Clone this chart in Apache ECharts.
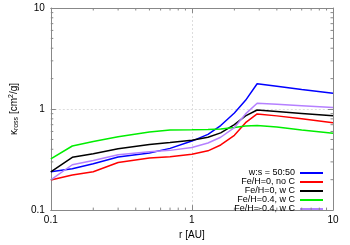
<!DOCTYPE html>
<html><head><meta charset="utf-8">
<script src="https://cdn.jsdelivr.net/npm/echarts@6/dist/echarts.min.js"></script>
<style>html,body{margin:0;padding:0;background:#fff}#c{width:350px;height:245px}</style>
</head><body><div id="c"></div>
<script>
const r = [0.1, 0.142, 0.2, 0.3, 0.5, 0.7, 1.0, 1.3, 1.6, 2.0, 2.4, 2.9, 4, 6, 10];
const wsRatio = [0.239,0.257,0.287,0.336,0.367,0.408,0.482,0.562,0.687,0.915,1.22,1.78,1.68,1.56,1.43];
const feH0noC = [0.199,0.222,0.240,0.296,0.327,0.338,0.357,0.386,0.441,0.55,0.733,0.895,0.856,0.801,0.733];
const feH0wC = [0.239,0.333,0.361,0.404,0.446,0.466,0.492,0.526,0.581,0.702,0.857,0.978,0.946,0.905,0.857];
const feH04wC = [0.321,0.431,0.478,0.532,0.594,0.621,0.624,0.628,0.635,0.656,0.679,0.687,0.664,0.621,0.575];
const feHm04wC = [0.199,0.281,0.309,0.353,0.377,0.390,0.417,0.461,0.526,0.656,0.895,1.14,1.117,1.08,1.034];
const seriesNames = ['w:s = 50:50','Fe/H=0, no C','Fe/H=0, w C','Fe/H=0.4, w C','Fe/H=-0.4, w C'];
const seriesData = [wsRatio, feH0noC, feH0wC, feH04wC, feHm04wC];
const colors = ['#0000ff','#ff0000','#000000','#00ee00','#b580ff'];
const minorX = [0.2,0.3,0.4,0.5,0.6,0.7,0.8,0.9,2,3,4,5,6,7,8,9];
const minorY = minorX;

const font = 'Liberation Sans, Arial, sans-serif';
const chart = echarts.init(document.getElementById('c'));
const frame = '#888';
const axisCommon = {
  type: 'log', logBase: 10, min: 0.1, max: 10,
  axisLine: {show: true, lineStyle: {color: frame, width: 1}},
  axisTick: {show: true, inside: true, length: 5, lineStyle: {color: frame}},
  minorTick: {show: false},
};
chart.setOption({
  animation: false,
  grid: {left: 43, right: 17, top: 8, bottom: 29},
  xAxis: [
    Object.assign({}, axisCommon, {
      position: 'bottom',
      name: 'r [AU]', nameLocation: 'middle', nameGap: 18,
      nameTextStyle: {fontFamily: font, fontSize: 10, color: '#000'},
      axisLabel: {fontFamily: font, fontSize: 10, color: '#000', margin: 5,
        formatter: v => String(v)},
      splitLine: {show: true, lineStyle: {color: '#ddd', type: [2, 2], width: 1}}
    }),
    Object.assign({}, axisCommon, {
      position: 'top', axisLabel: {show: false}, splitLine: {show: false}
    })
  ],
  yAxis: [
    Object.assign({}, axisCommon, {
      position: 'left',
      name: 'κ{sub|ross} [cm{sup|2}/g]', nameLocation: 'middle', nameGap: 26, nameRotate: 90,
      nameTextStyle: {fontFamily: font, fontSize: 10, color: '#000',
        rich: {sub: {fontSize: 7, fontFamily: font, verticalAlign: 'bottom', padding: [5,0,0,0]},
               sup: {fontSize: 7, fontFamily: font, verticalAlign: 'top', padding: [0,0,5,0]}}},
      axisLabel: {fontFamily: font, fontSize: 10, color: '#000', margin: 6,
        formatter: v => String(v)},
      splitLine: {show: true, lineStyle: {color: '#ddd', type: [2, 2], width: 1}}
    }),
    Object.assign({}, axisCommon, {
      position: 'right', axisLabel: {show: false}, splitLine: {show: false}
    })
  ],
  legend: seriesNames.map((n, i) => ({
    orient: 'vertical', right: 27, top: 168 + i * 9, align: 'right', padding: 0,
    itemWidth: 23, itemHeight: 2, icon: 'rect',
    textStyle: {fontFamily: font, fontSize: 9, color: '#000', lineHeight: 10},
    data: [n]
  })),
  series: seriesNames.map((n, i) => ({
    name: n, type: 'line', xAxisIndex: 0, yAxisIndex: 0,
    data: r.map((x, j) => [x, seriesData[i][j]]),
    showSymbol: false, symbol: 'none',
    lineStyle: {color: colors[i], width: 1.5}, itemStyle: {color: colors[i]},
    z: 3
  }))
});

const g = [];
const x0 = chart.convertToPixel({xAxisIndex: 0}, 0.1);
const x1 = chart.convertToPixel({xAxisIndex: 0}, 10);
const yb = chart.convertToPixel({yAxisIndex: 0}, 0.1);
const yt = chart.convertToPixel({yAxisIndex: 0}, 10);
const L = 2.5;
minorX.forEach(v => {
  const px = chart.convertToPixel({xAxisIndex: 0}, v);
  g.push({type: 'line', shape: {x1: px, y1: yb, x2: px, y2: yb - L}, style: {stroke: frame, lineWidth: 1}, z: 10});
  g.push({type: 'line', shape: {x1: px, y1: yt, x2: px, y2: yt + L}, style: {stroke: frame, lineWidth: 1}, z: 10});
});
minorY.forEach(v => {
  const py = chart.convertToPixel({yAxisIndex: 0}, v);
  g.push({type: 'line', shape: {x1: x0, y1: py, x2: x0 + L, y2: py}, style: {stroke: frame, lineWidth: 1}, z: 10});
  g.push({type: 'line', shape: {x1: x1, y1: py, x2: x1 - L, y2: py}, style: {stroke: frame, lineWidth: 1}, z: 10});
});
chart.setOption({graphic: g});
</script>
</body></html>
